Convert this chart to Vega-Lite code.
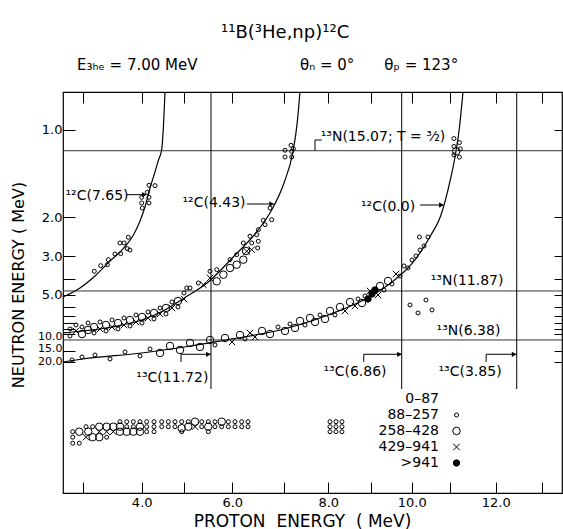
{
  "$schema": "https://vega.github.io/schema/vega-lite/v6.json",
  "width": 499,
  "height": 401,
  "autosize": {"type": "none"},
  "padding": {"left": 63, "top": 92, "right": 1, "bottom": 36},
  "background": "white",
  "title": {
    "text": "\u200b\u2003\u2003\u2003\u2003\u2003\u2003\u2003\u2003¹¹B(³He,np)¹²C",
    "subtitle": "E₃ₕₑ = 7.00 MeV\u2003\u2003\u2003\u2003\u2003\u2003\u2002\u2006\u2006θₙ = 0°\u2003\u2003θₚ = 123°",
    "anchor": "start",
    "frame": "group",
    "dx": 14,
    "offset": 17,
    "subtitlePadding": 16,
    "font": "DejaVu Sans",
    "fontSize": 18,
    "fontWeight": "normal",
    "color": "black",
    "subtitleFont": "DejaVu Sans",
    "subtitleFontSize": 15,
    "subtitleColor": "black"
  },
  "config": {
    "view": {"stroke": "black", "strokeWidth": 1.2},
    "font": "DejaVu Sans",
    "axis": {
      "grid": false,
      "domain": false,
      "tickColor": "black",
      "tickWidth": 1,
      "labelColor": "black",
      "titleColor": "black",
      "labelFont": "DejaVu Sans",
      "titleFont": "DejaVu Sans",
      "labelFontSize": 13,
      "titleFontSize": 16,
      "titleFontWeight": "normal",
      "labelOverlap": false,
      "labelFlush": false
    }
  },
  "datasets": {
    "curves": [
      {"curve": "12C(7.65)", "o": 1, "Ep": 2.666, "En": 5.153},
      {"curve": "12C(7.65)", "o": 2, "Ep": 2.954, "En": 4.514},
      {"curve": "12C(7.65)", "o": 3, "Ep": 3.208, "En": 3.831},
      {"curve": "12C(7.65)", "o": 4, "Ep": 3.463, "En": 3.176},
      {"curve": "12C(7.65)", "o": 5, "Ep": 3.632, "En": 2.86},
      {"curve": "12C(7.65)", "o": 6, "Ep": 3.746, "En": 2.638},
      {"curve": "12C(7.65)", "o": 7, "Ep": 3.869, "En": 2.355},
      {"curve": "12C(7.65)", "o": 8, "Ep": 3.971, "En": 2.069},
      {"curve": "12C(7.65)", "o": 9, "Ep": 4.077, "En": 1.816},
      {"curve": "12C(7.65)", "o": 10, "Ep": 4.195, "En": 1.541},
      {"curve": "12C(7.65)", "o": 11, "Ep": 4.312, "En": 1.354},
      {"curve": "12C(7.65)", "o": 12, "Ep": 4.394, "En": 1.236},
      {"curve": "12C(7.65)", "o": 13, "Ep": 4.469, "En": 1.146},
      {"curve": "12C(7.65)", "o": 14, "Ep": 4.512, "En": 0.967},
      {"curve": "12C(7.65)", "o": 15, "Ep": 4.547, "En": 0.787},
      {"curve": "12C(4.43)", "o": 1, "Ep": 2.666, "En": 9.77},
      {"curve": "12C(4.43)", "o": 2, "Ep": 3.0, "En": 9.373},
      {"curve": "12C(4.43)", "o": 3, "Ep": 3.5, "En": 8.649},
      {"curve": "12C(4.43)", "o": 4, "Ep": 4.0, "En": 7.569},
      {"curve": "12C(4.43)", "o": 5, "Ep": 4.5, "En": 6.454},
      {"curve": "12C(4.43)", "o": 6, "Ep": 5.0, "En": 5.232},
      {"curve": "12C(4.43)", "o": 7, "Ep": 5.5, "En": 4.152},
      {"curve": "12C(4.43)", "o": 8, "Ep": 6.0, "En": 3.065},
      {"curve": "12C(4.43)", "o": 9, "Ep": 6.5, "En": 2.261},
      {"curve": "12C(4.43)", "o": 10, "Ep": 6.75, "En": 1.884},
      {"curve": "12C(4.43)", "o": 11, "Ep": 7.0, "En": 1.478},
      {"curve": "12C(4.43)", "o": 12, "Ep": 7.2, "En": 1.166},
      {"curve": "12C(4.43)", "o": 13, "Ep": 7.3, "En": 0.949},
      {"curve": "12C(4.43)", "o": 14, "Ep": 7.36, "En": 0.787},
      {"curve": "12C(0.0)", "o": 1, "Ep": 2.666, "En": 20.15},
      {"curve": "12C(0.0)", "o": 2, "Ep": 3.0, "En": 18.45},
      {"curve": "12C(0.0)", "o": 3, "Ep": 4.0, "En": 15.63},
      {"curve": "12C(0.0)", "o": 4, "Ep": 5.0, "En": 13.42},
      {"curve": "12C(0.0)", "o": 5, "Ep": 6.0, "En": 11.12},
      {"curve": "12C(0.0)", "o": 6, "Ep": 7.0, "En": 9.0},
      {"curve": "12C(0.0)", "o": 7, "Ep": 8.0, "En": 6.917},
      {"curve": "12C(0.0)", "o": 8, "Ep": 9.0, "En": 5.075},
      {"curve": "12C(0.0)", "o": 9, "Ep": 9.5, "En": 4.18},
      {"curve": "12C(0.0)", "o": 10, "Ep": 10.0, "En": 3.293},
      {"curve": "12C(0.0)", "o": 11, "Ep": 10.5, "En": 2.38},
      {"curve": "12C(0.0)", "o": 12, "Ep": 10.75, "En": 1.973},
      {"curve": "12C(0.0)", "o": 13, "Ep": 11.0, "En": 1.443},
      {"curve": "12C(0.0)", "o": 14, "Ep": 11.1, "En": 1.218},
      {"curve": "12C(0.0)", "o": 15, "Ep": 11.2, "En": 0.987},
      {"curve": "12C(0.0)", "o": 16, "Ep": 11.28, "En": 0.787}
    ],
    "hlines": [
      {"state": "13N(15.07)", "En": 1.155},
      {"state": "13N(11.87)", "En": 4.713},
      {"state": "13N(6.38)", "En": 11.377}
    ],
    "vlines": [
      {"state": "13C(11.72)", "Ep": 5.556, "top": 0.787, "bot": 57.1},
      {"state": "13C(6.86)", "Ep": 9.754, "top": 0.787, "bot": 57.1},
      {"state": "13C(3.85)", "Ep": 12.457, "top": 0.787, "bot": 57.1}
    ],
    "brackets": [
      {"g": "n15", "o": 1, "Ep": 7.7, "En": 1.155},
      {"g": "n15", "o": 2, "Ep": 7.7, "En": 1.0705},
      {"g": "n15", "o": 3, "Ep": 7.851, "En": 1.0705},
      {"g": "c1172", "o": 1, "Ep": 4.923, "En": 20.15},
      {"g": "c1172", "o": 2, "Ep": 4.923, "En": 16.18},
      {"g": "c1172", "o": 3, "Ep": 5.556, "En": 16.18},
      {"g": "c686", "o": 1, "Ep": 8.83, "En": 20.15},
      {"g": "c686", "o": 2, "Ep": 8.83, "En": 16.18},
      {"g": "c686", "o": 3, "Ep": 9.754, "En": 16.18},
      {"g": "c385", "o": 1, "Ep": 11.79, "En": 20.15},
      {"g": "c385", "o": 2, "Ep": 11.79, "En": 16.18},
      {"g": "c385", "o": 3, "Ep": 12.457, "En": 16.18},
      {"g": "a765", "o": 1, "Ep": 3.751, "En": 1.63},
      {"g": "a765", "o": 2, "Ep": 4.1, "En": 1.63},
      {"g": "a443", "o": 1, "Ep": 6.279, "En": 1.768},
      {"g": "a443", "o": 2, "Ep": 6.8, "En": 1.768},
      {"g": "a00", "o": 1, "Ep": 10.215, "En": 1.784},
      {"g": "a00", "o": 2, "Ep": 10.811, "En": 1.784}
    ],
    "heads": [
      {"Ep": 4.06, "En": 1.63},
      {"Ep": 6.76, "En": 1.768},
      {"Ep": 10.77, "En": 1.784},
      {"Ep": 5.5, "En": 16.18},
      {"Ep": 9.7, "En": 16.18},
      {"Ep": 12.4, "En": 16.18}
    ],
    "labels": [
      {"Ep": 3.242, "En": 1.648, "text": "¹²C(7.65)"},
      {"Ep": 5.619, "En": 1.752, "text": "¹²C(4.43)"},
      {"Ep": 9.418, "En": 1.811, "text": "¹²C(0.0)"},
      {"Ep": 9.295, "En": 1.0486, "text": "¹³N(15.07; T = ³⁄₂)"},
      {"Ep": 11.37, "En": 4.096, "text": "¹³N(11.87)"},
      {"Ep": 11.4, "En": 9.373, "text": "¹³N(6.38)"},
      {"Ep": 4.72, "En": 34.94, "text": "¹³C(11.72)"},
      {"Ep": 8.625, "En": 27.91, "text": "¹³C(6.86)"},
      {"Ep": 11.435, "En": 27.91, "text": "¹³C(3.85)"}
    ],
    "pts": [
      {"Ep": 3.197, "En": 3.606, "c": "88–257"},
      {"Ep": 3.305, "En": 3.362, "c": "88–257"},
      {"Ep": 3.417, "En": 3.321, "c": "88–257"},
      {"Ep": 3.434, "En": 3.127, "c": "88–257"},
      {"Ep": 3.547, "En": 2.926, "c": "88–257"},
      {"Ep": 3.632, "En": 2.589, "c": "88–257"},
      {"Ep": 3.7, "En": 2.589, "c": "88–257"},
      {"Ep": 3.773, "En": 2.437, "c": "88–257"},
      {"Ep": 3.644, "En": 2.916, "c": "88–257"},
      {"Ep": 3.756, "En": 2.756, "c": "88–257"},
      {"Ep": 3.8, "En": 2.797, "c": "88–257"},
      {"Ep": 4.171, "En": 1.506, "c": "88–257"},
      {"Ep": 4.312, "En": 1.511, "c": "88–257"},
      {"Ep": 4.131, "En": 1.597, "c": "88–257"},
      {"Ep": 4.0, "En": 1.667, "c": "88–257"},
      {"Ep": 4.171, "En": 1.667, "c": "88–257"},
      {"Ep": 4.0, "En": 1.752, "c": "88–257"},
      {"Ep": 4.171, "En": 1.752, "c": "88–257"},
      {"Ep": 4.014, "En": 1.833, "c": "88–257"},
      {"Ep": 7.023, "En": 1.151, "c": "88–257"},
      {"Ep": 7.023, "En": 1.209, "c": "88–257"},
      {"Ep": 7.158, "En": 1.111, "c": "88–257"},
      {"Ep": 7.174, "En": 1.16, "c": "88–257"},
      {"Ep": 7.21, "En": 1.138, "c": "88–257"},
      {"Ep": 7.174, "En": 1.209, "c": "88–257"},
      {"Ep": 6.729, "En": 1.833, "c": "88–257"},
      {"Ep": 6.762, "En": 2.044, "c": "88–257"},
      {"Ep": 6.6, "En": 2.056, "c": "88–257"},
      {"Ep": 6.633, "En": 2.145, "c": "88–257"},
      {"Ep": 6.503, "En": 2.255, "c": "88–257"},
      {"Ep": 6.472, "En": 2.372, "c": "88–257"},
      {"Ep": 6.342, "En": 2.412, "c": "88–257"},
      {"Ep": 6.503, "En": 2.543, "c": "88–257"},
      {"Ep": 6.491, "En": 2.735, "c": "88–257"},
      {"Ep": 6.375, "En": 2.589, "c": "88–257"},
      {"Ep": 6.213, "En": 2.589, "c": "88–257"},
      {"Ep": 6.265, "En": 2.828, "c": "258–428"},
      {"Ep": 6.213, "En": 3.127, "c": "258–428"},
      {"Ep": 6.085, "En": 3.321, "c": "258–428"},
      {"Ep": 5.953, "En": 3.459, "c": "258–428"},
      {"Ep": 5.953, "En": 3.127, "c": "88–257"},
      {"Ep": 5.814, "En": 3.767, "c": "258–428"},
      {"Ep": 5.676, "En": 4.112, "c": "258–428"},
      {"Ep": 5.536, "En": 3.934, "c": "429–941"},
      {"Ep": 5.396, "En": 4.309, "c": "429–941"},
      {"Ep": 5.536, "En": 3.606, "c": "88–257"},
      {"Ep": 5.676, "En": 3.533, "c": "88–257"},
      {"Ep": 6.085, "En": 2.95, "c": "88–257"},
      {"Ep": 6.279, "En": 2.838, "c": "429–941"},
      {"Ep": 6.375, "En": 2.787, "c": "429–941"},
      {"Ep": 5.292, "En": 4.209, "c": "88–257"},
      {"Ep": 5.119, "En": 4.514, "c": "88–257"},
      {"Ep": 5.05, "En": 4.514, "c": "88–257"},
      {"Ep": 2.785, "En": 9.0, "c": "88–257"},
      {"Ep": 2.785, "En": 10.414, "c": "88–257"},
      {"Ep": 2.886, "En": 9.373, "c": "429–941"},
      {"Ep": 2.886, "En": 8.318, "c": "88–257"},
      {"Ep": 2.988, "En": 9.978, "c": "258–428"},
      {"Ep": 2.988, "En": 8.649, "c": "88–257"},
      {"Ep": 3.09, "En": 9.184, "c": "258–428"},
      {"Ep": 3.09, "En": 8.006, "c": "88–257"},
      {"Ep": 3.192, "En": 9.77, "c": "88–257"},
      {"Ep": 3.192, "En": 8.649, "c": "258–428"},
      {"Ep": 3.293, "En": 9.0, "c": "429–941"},
      {"Ep": 3.293, "En": 7.856, "c": "88–257"},
      {"Ep": 3.395, "En": 9.373, "c": "88–257"},
      {"Ep": 3.395, "En": 8.318, "c": "258–428"},
      {"Ep": 3.497, "En": 8.649, "c": "429–941"},
      {"Ep": 3.497, "En": 7.569, "c": "88–257"},
      {"Ep": 3.598, "En": 9.0, "c": "88–257"},
      {"Ep": 3.598, "En": 8.006, "c": "258–428"},
      {"Ep": 3.7, "En": 8.318, "c": "429–941"},
      {"Ep": 3.7, "En": 7.297, "c": "88–257"},
      {"Ep": 3.802, "En": 8.481, "c": "88–257"},
      {"Ep": 3.802, "En": 7.569, "c": "258–428"},
      {"Ep": 3.903, "En": 7.856, "c": "429–941"},
      {"Ep": 3.903, "En": 6.917, "c": "88–257"},
      {"Ep": 4.007, "En": 8.006, "c": "88–257"},
      {"Ep": 4.007, "En": 7.167, "c": "258–428"},
      {"Ep": 4.148, "En": 7.297, "c": "429–941"},
      {"Ep": 4.148, "En": 6.565, "c": "88–257"},
      {"Ep": 4.289, "En": 7.431, "c": "88–257"},
      {"Ep": 4.289, "En": 6.679, "c": "258–428"},
      {"Ep": 4.43, "En": 6.796, "c": "429–941"},
      {"Ep": 4.43, "En": 6.136, "c": "88–257"},
      {"Ep": 4.57, "En": 6.796, "c": "88–257"},
      {"Ep": 4.57, "En": 6.136, "c": "258–428"},
      {"Ep": 4.711, "En": 6.136, "c": "429–941"},
      {"Ep": 4.711, "En": 5.568, "c": "88–257"},
      {"Ep": 4.852, "En": 6.036, "c": "88–257"},
      {"Ep": 4.852, "En": 5.481, "c": "258–428"},
      {"Ep": 4.993, "En": 5.313, "c": "429–941"},
      {"Ep": 4.993, "En": 4.853, "c": "88–257"},
      {"Ep": 3.208, "En": 16.494, "c": "88–257"},
      {"Ep": 3.463, "En": 18.447, "c": "88–257"},
      {"Ep": 3.717, "En": 15.226, "c": "88–257"},
      {"Ep": 3.971, "En": 16.952, "c": "88–257"},
      {"Ep": 4.195, "En": 14.098, "c": "88–257"},
      {"Ep": 4.43, "En": 15.632, "c": "258–428"},
      {"Ep": 4.664, "En": 13.092, "c": "258–428"},
      {"Ep": 4.899, "En": 14.46, "c": "258–428"},
      {"Ep": 5.119, "En": 12.189, "c": "258–428"},
      {"Ep": 5.327, "En": 13.415, "c": "258–428"},
      {"Ep": 5.536, "En": 11.377, "c": "258–428"},
      {"Ep": 5.64, "En": 12.78, "c": "88–257"},
      {"Ep": 5.848, "En": 10.879, "c": "258–428"},
      {"Ep": 5.994, "En": 11.909, "c": "429–941"},
      {"Ep": 6.149, "En": 10.192, "c": "258–428"},
      {"Ep": 6.246, "En": 11.124, "c": "88–257"},
      {"Ep": 6.342, "En": 9.77, "c": "429–941"},
      {"Ep": 6.439, "En": 10.643, "c": "429–941"},
      {"Ep": 6.574, "En": 9.373, "c": "258–428"},
      {"Ep": 6.729, "En": 9.978, "c": "258–428"},
      {"Ep": 6.884, "En": 8.649, "c": "88–257"},
      {"Ep": 7.023, "En": 9.373, "c": "258–428"},
      {"Ep": 7.135, "En": 8.159, "c": "88–257"},
      {"Ep": 7.248, "En": 8.822, "c": "258–428"},
      {"Ep": 7.361, "En": 7.71, "c": "258–428"},
      {"Ep": 7.474, "En": 8.318, "c": "88–257"},
      {"Ep": 7.587, "En": 7.297, "c": "258–428"},
      {"Ep": 7.7, "En": 7.856, "c": "258–428"},
      {"Ep": 7.813, "En": 6.917, "c": "88–257"},
      {"Ep": 7.926, "En": 7.431, "c": "258–428"},
      {"Ep": 8.04, "En": 6.454, "c": "258–428"},
      {"Ep": 8.157, "En": 6.917, "c": "88–257"},
      {"Ep": 8.274, "En": 6.036, "c": "258–428"},
      {"Ep": 8.391, "En": 6.454, "c": "429–941"},
      {"Ep": 8.508, "En": 5.568, "c": "258–428"},
      {"Ep": 8.625, "En": 5.938, "c": "429–941"},
      {"Ep": 8.696, "En": 5.313, "c": "88–257"},
      {"Ep": 8.789, "En": 5.657, "c": "258–428"},
      {"Ep": 8.859, "En": 5.075, "c": "88–257"},
      {"Ep": 8.93, "En": 5.313, "c": ">941"},
      {"Ep": 9.025, "En": 4.925, "c": ">941"},
      {"Ep": 9.098, "En": 4.645, "c": ">941"},
      {"Ep": 8.977, "En": 4.713, "c": "429–941"},
      {"Ep": 9.172, "En": 5.0, "c": "429–941"},
      {"Ep": 9.221, "En": 4.388, "c": "258–428"},
      {"Ep": 9.319, "En": 4.645, "c": "88–257"},
      {"Ep": 9.418, "En": 4.096, "c": "258–428"},
      {"Ep": 9.516, "En": 4.267, "c": "88–257"},
      {"Ep": 9.615, "En": 3.733, "c": "429–941"},
      {"Ep": 9.713, "En": 3.831, "c": "88–257"},
      {"Ep": 9.811, "En": 3.374, "c": "88–257"},
      {"Ep": 9.909, "En": 3.459, "c": "88–257"},
      {"Ep": 10.008, "En": 3.138, "c": "88–257"},
      {"Ep": 10.111, "En": 2.994, "c": "88–257"},
      {"Ep": 10.215, "En": 2.797, "c": "88–257"},
      {"Ep": 10.319, "En": 2.675, "c": "88–257"},
      {"Ep": 10.422, "En": 2.43, "c": "88–257"},
      {"Ep": 9.958, "En": 5.842, "c": "88–257"},
      {"Ep": 10.163, "En": 6.679, "c": "88–257"},
      {"Ep": 10.37, "En": 5.396, "c": "88–257"},
      {"Ep": 10.526, "En": 6.345, "c": "88–257"},
      {"Ep": 2.819, "En": 18.99, "c": "88–257"},
      {"Ep": 2.988, "En": 17.43, "c": "88–257"},
      {"Ep": 11.08, "En": 1.19, "c": "88–257"},
      {"Ep": 11.08, "En": 1.12, "c": "88–257"},
      {"Ep": 11.13, "En": 1.16, "c": "258–428"},
      {"Ep": 11.2, "En": 1.21, "c": "88–257"},
      {"Ep": 11.22, "En": 1.14, "c": "88–257"},
      {"Ep": 11.08, "En": 1.06, "c": "88–257"},
      {"Ep": 11.2, "En": 1.09, "c": "88–257"},
      {"Ep": 10.2, "En": 2.43, "c": "88–257"}
    ],
    "gamma": [
      {"Ep": 2.831, "t": 3, "c": "88–257"},
      {"Ep": 2.831, "t": 4.1, "c": "88–257"},
      {"Ep": 2.831, "t": 5.3, "c": "88–257"},
      {"Ep": 2.942, "t": 3, "c": "258–428"},
      {"Ep": 2.942, "t": 5.3, "c": "88–257"},
      {"Ep": 3.056, "t": 2, "c": "88–257"},
      {"Ep": 3.056, "t": 4.1, "c": "429–941"},
      {"Ep": 3.095, "t": 3, "c": "258–428"},
      {"Ep": 3.169, "t": 2, "c": "88–257"},
      {"Ep": 3.169, "t": 4.1, "c": "258–428"},
      {"Ep": 3.281, "t": 2, "c": "258–428"},
      {"Ep": 3.281, "t": 3, "c": "429–941"},
      {"Ep": 3.281, "t": 4.1, "c": "258–428"},
      {"Ep": 3.406, "t": 2, "c": "258–428"},
      {"Ep": 3.406, "t": 3, "c": "429–941"},
      {"Ep": 3.406, "t": 4.1, "c": "88–257"},
      {"Ep": 3.519, "t": 2, "c": "258–428"},
      {"Ep": 3.519, "t": 3, "c": "429–941"},
      {"Ep": 3.632, "t": 1, "c": "88–257"},
      {"Ep": 3.632, "t": 2, "c": "258–428"},
      {"Ep": 3.632, "t": 3, "c": "258–428"},
      {"Ep": 3.746, "t": 1, "c": "88–257"},
      {"Ep": 3.746, "t": 2, "c": "88–257"},
      {"Ep": 3.746, "t": 3, "c": "258–428"},
      {"Ep": 3.858, "t": 1, "c": "88–257"},
      {"Ep": 3.858, "t": 2, "c": "88–257"},
      {"Ep": 3.858, "t": 3, "c": "258–428"},
      {"Ep": 3.971, "t": 1, "c": "88–257"},
      {"Ep": 3.971, "t": 2, "c": "258–428"},
      {"Ep": 3.971, "t": 3, "c": "258–428"},
      {"Ep": 4.117, "t": 1, "c": "88–257"},
      {"Ep": 4.117, "t": 2, "c": "88–257"},
      {"Ep": 4.117, "t": 3, "c": "88–257"},
      {"Ep": 4.289, "t": 1, "c": "88–257"},
      {"Ep": 4.289, "t": 2, "c": "88–257"},
      {"Ep": 4.289, "t": 3, "c": "88–257"},
      {"Ep": 4.47, "t": 1, "c": "88–257"},
      {"Ep": 4.47, "t": 2, "c": "88–257"},
      {"Ep": 4.625, "t": 1, "c": "88–257"},
      {"Ep": 4.625, "t": 2, "c": "88–257"},
      {"Ep": 4.782, "t": 1, "c": "88–257"},
      {"Ep": 4.782, "t": 2, "c": "88–257"},
      {"Ep": 4.939, "t": 1, "c": "88–257"},
      {"Ep": 4.939, "t": 2.3, "c": "258–428"},
      {"Ep": 4.939, "t": 3, "c": "88–257"},
      {"Ep": 5.083, "t": 1, "c": "88–257"},
      {"Ep": 5.083, "t": 2, "c": "258–428"},
      {"Ep": 5.223, "t": 1, "c": "258–428"},
      {"Ep": 5.223, "t": 2, "c": "429–941"},
      {"Ep": 5.363, "t": 1, "c": "88–257"},
      {"Ep": 5.363, "t": 2, "c": "88–257"},
      {"Ep": 5.5, "t": 1, "c": "88–257"},
      {"Ep": 5.5, "t": 2, "c": "258–428"},
      {"Ep": 5.5, "t": 3, "c": "88–257"},
      {"Ep": 5.64, "t": 1, "c": "88–257"},
      {"Ep": 5.64, "t": 2, "c": "88–257"},
      {"Ep": 5.779, "t": 1, "c": "258–428"},
      {"Ep": 5.779, "t": 2, "c": "88–257"},
      {"Ep": 5.917, "t": 1, "c": "88–257"},
      {"Ep": 5.917, "t": 2, "c": "88–257"},
      {"Ep": 6.052, "t": 1, "c": "88–257"},
      {"Ep": 6.052, "t": 2, "c": "88–257"},
      {"Ep": 6.182, "t": 1, "c": "88–257"},
      {"Ep": 6.182, "t": 2, "c": "88–257"},
      {"Ep": 6.304, "t": 1, "c": "88–257"},
      {"Ep": 6.304, "t": 2, "c": "88–257"},
      {"Ep": 8.04, "t": 1, "c": "88–257"},
      {"Ep": 8.04, "t": 2, "c": "88–257"},
      {"Ep": 8.04, "t": 3, "c": "88–257"},
      {"Ep": 8.18, "t": 1, "c": "88–257"},
      {"Ep": 8.18, "t": 2, "c": "88–257"},
      {"Ep": 8.18, "t": 3, "c": "88–257"},
      {"Ep": 8.32, "t": 1, "c": "88–257"},
      {"Ep": 8.32, "t": 2, "c": "88–257"},
      {"Ep": 8.32, "t": 3, "c": "88–257"}
    ]
  },
  "resolve": {"scale": {"y": "independent"}},
  "layer": [
    {
      "layer": [
        {
          "data": {"name": "curves"},
          "mark": {"type": "line", "color": "black", "strokeWidth": 1.2, "interpolate": "monotone"},
          "encoding": {
            "x": {"field": "Ep", "type": "quantitative",
              "scale": {"type": "linear", "domain": [2.666, 3, 4, 5, 6, 7, 8, 9, 10, 11, 12, 13, 13.44], "range": [0, 19.7, 78.7, 121.3, 169.3, 221, 265.3, 308, 348.7, 387.3, 432.7, 478.7, 499], "nice": false, "zero": false},
              "axis": {"orient": "bottom", "values": [3, 4, 5, 6, 7, 8, 9, 10, 11, 12, 13],
                "labelExpr": "datum.value % 2 == 0 ? format(datum.value, '.1f') : ''",
                "tickSize": -11, "labelPadding": 14,
                "title": "PROTON\u00a0\u00a0ENERGY\u00a0\u00a0(\u00a0MeV)", "titleFontSize": 17, "titleX": 239, "titleY": 28,
                "titleAlign": "center", "titleBaseline": "middle"}},
            "y": {"field": "En", "type": "quantitative",
              "scale": {"type": "pow", "exponent": -0.5, "domain": [0.787, 100], "range": [0, 306.63], "nice": false, "zero": false},
              "axis": {"orient": "left", "values": [1, 2, 3, 4, 5, 6, 7, 8, 9, 10, 15, 20],
                "labelExpr": "indexof([1,2,3,5,10,15,20], datum.value) >= 0 ? format(datum.value, '.1f') : ''",
                "tickSize": -12, "labelPadding": 13, "labelBaseline": "middle",
                "labelFontSize": {"condition": {"test": "datum.value >= 10", "value": 11}, "value": 13},
                "labelOffset": {"condition": [{"test": "datum.value == 10", "value": 2}, {"test": "datum.value == 15", "value": -3}, {"test": "datum.value == 20", "value": 0}], "value": 0},
                "title": "NEUTRON\u00a0ENERGY\u00a0(\u00a0MeV)", "titleX": -45, "titleY": 192.5,
                "titleAngle": -90, "titleAlign": "center", "titleBaseline": "middle"}},
            "detail": {"field": "curve"},
            "order": {"field": "o", "type": "quantitative"}
          }
        },
        {
          "data": {"name": "hlines"},
          "mark": {"type": "rule", "color": "#333333", "strokeWidth": 1},
          "encoding": {
            "y": {"field": "En", "type": "quantitative",
              "scale": {"type": "pow", "exponent": -0.5, "domain": [0.787, 100], "range": [0, 306.63], "nice": false, "zero": false},
              "axis": null}
          }
        },
        {
          "data": {"name": "vlines"},
          "mark": {"type": "rule", "color": "black", "strokeWidth": 1},
          "encoding": {
            "x": {"field": "Ep", "type": "quantitative",
              "scale": {"type": "linear", "domain": [2.666, 3, 4, 5, 6, 7, 8, 9, 10, 11, 12, 13, 13.44], "range": [0, 19.7, 78.7, 121.3, 169.3, 221, 265.3, 308, 348.7, 387.3, 432.7, 478.7, 499], "nice": false, "zero": false},
              "axis": {"orient": "top", "values": [3, 4, 5, 6, 7, 8, 9, 10, 11, 12, 13], "labels": false, "tickSize": -11, "title": null}},
            "y": {"field": "top", "type": "quantitative",
              "scale": {"type": "pow", "exponent": -0.5, "domain": [0.787, 100], "range": [0, 306.63], "nice": false, "zero": false},
              "axis": {"orient": "right", "values": [1, 2, 3, 4, 5, 6, 7, 8, 9, 10, 15, 20], "labels": false, "tickSize": -8, "title": null}},
            "y2": {"field": "bot"}
          }
        },
        {
          "data": {"name": "brackets"},
          "mark": {"type": "line", "color": "black", "strokeWidth": 1},
          "encoding": {
            "x": {"field": "Ep", "type": "quantitative",
              "scale": {"type": "linear", "domain": [2.666, 3, 4, 5, 6, 7, 8, 9, 10, 11, 12, 13, 13.44], "range": [0, 19.7, 78.7, 121.3, 169.3, 221, 265.3, 308, 348.7, 387.3, 432.7, 478.7, 499], "nice": false, "zero": false},
              "axis": null},
            "y": {"field": "En", "type": "quantitative",
              "scale": {"type": "pow", "exponent": -0.5, "domain": [0.787, 100], "range": [0, 306.63], "nice": false, "zero": false},
              "axis": null},
            "detail": {"field": "g"},
            "order": {"field": "o", "type": "quantitative"}
          }
        },
        {
          "data": {"name": "heads"},
          "mark": {"type": "point", "shape": "triangle-right", "filled": true, "color": "black", "size": 28, "opacity": 1},
          "encoding": {
            "x": {"field": "Ep", "type": "quantitative",
              "scale": {"type": "linear", "domain": [2.666, 3, 4, 5, 6, 7, 8, 9, 10, 11, 12, 13, 13.44], "range": [0, 19.7, 78.7, 121.3, 169.3, 221, 265.3, 308, 348.7, 387.3, 432.7, 478.7, 499], "nice": false, "zero": false},
              "axis": null},
            "y": {"field": "En", "type": "quantitative",
              "scale": {"type": "pow", "exponent": -0.5, "domain": [0.787, 100], "range": [0, 306.63], "nice": false, "zero": false},
              "axis": null}
          }
        },
        {
          "data": {"name": "labels"},
          "mark": {"type": "text", "font": "DejaVu Sans", "fontSize": 14, "color": "black", "align": "center", "baseline": "middle"},
          "encoding": {
            "x": {"field": "Ep", "type": "quantitative",
              "scale": {"type": "linear", "domain": [2.666, 3, 4, 5, 6, 7, 8, 9, 10, 11, 12, 13, 13.44], "range": [0, 19.7, 78.7, 121.3, 169.3, 221, 265.3, 308, 348.7, 387.3, 432.7, 478.7, 499], "nice": false, "zero": false},
              "axis": null},
            "y": {"field": "En", "type": "quantitative",
              "scale": {"type": "pow", "exponent": -0.5, "domain": [0.787, 100], "range": [0, 306.63], "nice": false, "zero": false},
              "axis": null},
            "text": {"field": "text"}
          }
        },
        {
          "data": {"name": "pts"},
          "mark": {"type": "point", "strokeWidth": 1, "opacity": 1},
          "encoding": {
            "x": {"field": "Ep", "type": "quantitative",
              "scale": {"type": "linear", "domain": [2.666, 3, 4, 5, 6, 7, 8, 9, 10, 11, 12, 13, 13.44], "range": [0, 19.7, 78.7, 121.3, 169.3, 221, 265.3, 308, 348.7, 387.3, 432.7, 478.7, 499], "nice": false, "zero": false},
              "axis": null},
            "y": {"field": "En", "type": "quantitative",
              "scale": {"type": "pow", "exponent": -0.5, "domain": [0.787, 100], "range": [0, 306.63], "nice": false, "zero": false},
              "axis": null},
            "shape": {"field": "c", "type": "ordinal",
              "scale": {"type": "ordinal", "domain": ["0–87", "88–257", "258–428", "429–941", ">941"], "range": ["M0,0", "circle", "circle", "M-1,-1L1,1M1,-1L-1,1", "circle"]},
              "legend": {"title": null, "orient": "none", "legendX": 386.5, "legendY": 300, "labelAlign": "right", "labelOffset": -24.5, "labelFontSize": 14, "labelFont": "DejaVu Sans", "labelColor": "black", "symbolStrokeWidth": 1, "rowPadding": 2, "padding": 0}},
            "size": {"field": "c", "type": "ordinal",
              "scale": {"type": "ordinal", "domain": ["0–87", "88–257", "258–428", "429–941", ">941"], "range": [4, 16, 56, 42, 40]},
              "legend": {"title": null, "orient": "none", "legendX": 386.5, "legendY": 300, "labelAlign": "right", "labelOffset": -24.5, "labelFontSize": 14, "labelFont": "DejaVu Sans", "labelColor": "black", "symbolStrokeWidth": 1, "rowPadding": 2, "padding": 0}},
            "fill": {"field": "c", "type": "ordinal",
              "scale": {"type": "ordinal", "domain": ["0–87", "88–257", "258–428", "429–941", ">941"], "range": ["transparent", "transparent", "transparent", "transparent", "black"]},
              "legend": {"title": null, "orient": "none", "legendX": 386.5, "legendY": 300, "labelAlign": "right", "labelOffset": -24.5, "labelFontSize": 14, "labelFont": "DejaVu Sans", "labelColor": "black", "symbolStrokeWidth": 1, "rowPadding": 2, "padding": 0}},
            "stroke": {"field": "c", "type": "ordinal",
              "scale": {"type": "ordinal", "domain": ["0–87", "88–257", "258–428", "429–941", ">941"], "range": ["black", "black", "black", "black", "black"]},
              "legend": {"title": null, "orient": "none", "legendX": 386.5, "legendY": 300, "labelAlign": "right", "labelOffset": -24.5, "labelFontSize": 14, "labelFont": "DejaVu Sans", "labelColor": "black", "symbolStrokeWidth": 1, "rowPadding": 2, "padding": 0}}
          }
        }
      ]
    },
    {
      "data": {"name": "gamma"},
      "mark": {"type": "point", "strokeWidth": 1, "opacity": 1},
      "encoding": {
        "x": {"field": "Ep", "type": "quantitative",
          "scale": {"type": "linear", "domain": [2.666, 3, 4, 5, 6, 7, 8, 9, 10, 11, 12, 13, 13.44], "range": [0, 19.7, 78.7, 121.3, 169.3, 221, 265.3, 308, 348.7, 387.3, 432.7, 478.7, 499], "nice": false, "zero": false},
          "axis": null},
        "y": {"field": "t", "type": "quantitative", "title": "prompt γ-ray band (relative flight time)",
          "scale": {"domain": [-64.94, 15.26], "reverse": true, "nice": false, "zero": false},
          "axis": null},
        "shape": {"field": "c", "type": "ordinal",
          "scale": {"type": "ordinal", "domain": ["0–87", "88–257", "258–428", "429–941", ">941"], "range": ["M0,0", "circle", "circle", "M-1,-1L1,1M1,-1L-1,1", "circle"]},
          "legend": {"title": null, "orient": "none", "legendX": 386.5, "legendY": 300, "labelAlign": "right", "labelOffset": -24.5, "labelFontSize": 14, "labelFont": "DejaVu Sans", "labelColor": "black", "symbolStrokeWidth": 1, "rowPadding": 2, "padding": 0}},
        "size": {"field": "c", "type": "ordinal",
          "scale": {"type": "ordinal", "domain": ["0–87", "88–257", "258–428", "429–941", ">941"], "range": [4, 16, 56, 42, 40]},
          "legend": {"title": null, "orient": "none", "legendX": 386.5, "legendY": 300, "labelAlign": "right", "labelOffset": -24.5, "labelFontSize": 14, "labelFont": "DejaVu Sans", "labelColor": "black", "symbolStrokeWidth": 1, "rowPadding": 2, "padding": 0}},
        "fill": {"field": "c", "type": "ordinal",
          "scale": {"type": "ordinal", "domain": ["0–87", "88–257", "258–428", "429–941", ">941"], "range": ["transparent", "transparent", "transparent", "transparent", "black"]},
          "legend": {"title": null, "orient": "none", "legendX": 386.5, "legendY": 300, "labelAlign": "right", "labelOffset": -24.5, "labelFontSize": 14, "labelFont": "DejaVu Sans", "labelColor": "black", "symbolStrokeWidth": 1, "rowPadding": 2, "padding": 0}},
        "stroke": {"field": "c", "type": "ordinal",
          "scale": {"type": "ordinal", "domain": ["0–87", "88–257", "258–428", "429–941", ">941"], "range": ["black", "black", "black", "black", "black"]},
          "legend": {"title": null, "orient": "none", "legendX": 386.5, "legendY": 300, "labelAlign": "right", "labelOffset": -24.5, "labelFontSize": 14, "labelFont": "DejaVu Sans", "labelColor": "black", "symbolStrokeWidth": 1, "rowPadding": 2, "padding": 0}}
      }
    }
  ]
}
